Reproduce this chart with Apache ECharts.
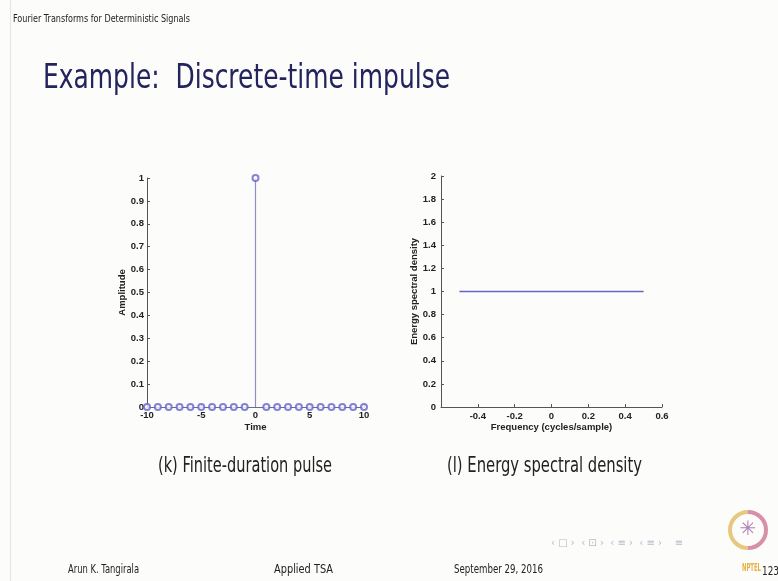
<!DOCTYPE html>
<html>
<head>
<meta charset="utf-8">
<script src="https://cdn.jsdelivr.net/npm/echarts@6/dist/echarts.min.js"></script>
<style>
html,body{margin:0;padding:0;background:#fcfcfa;}
#c{width:778px;height:581px;}
</style>
</head>
<body>
<div id="c"></div>
<script>
// ---- data ----
const timeSamples = [-10,-9,-8,-7,-6,-5,-4,-3,-2,-1,0,1,2,3,4,5,6,7,8,9,10];
const amplitudes  = [0,0,0,0,0,0,0,0,0,0,1,0,0,0,0,0,0,0,0,0,0];
const freqPoints  = [-0.5, 0.5];
const esdValues   = [1, 1];
const leftYTicks  = ['0','0.1','0.2','0.3','0.4','0.5','0.6','0.7','0.8','0.9','1'];
const leftXTicks  = ['-10','-5','0','5','10'];
const rightYTicks = ['0','0.2','0.4','0.6','0.8','1','1.2','1.4','1.6','1.8','2'];
const rightXTicks = ['-0.4','-0.2','0','0.2','0.4','0.6'];

const chart = echarts.init(document.getElementById('c'));
const blue = '#6464cc';
const stemColor = '#8c8cd0';
const axisCol = '#555';
const tickFont = {fontFamily:'Liberation Sans, Arial', fontSize:9.5, fontWeight:'bold', color:'#222'};

// fit text to a target width by horizontal scaling
const mctx = document.createElement('canvas').getContext('2d');
function fitText(text, font, x, y, targetW, fill){
  mctx.font = font;
  const w = mctx.measureText(text).width;
  const s = targetW / w;
  return {type:'text', x:x, y:y, scaleX:s, originX:0, originY:0,
          style:{text:text, font:font, fill:fill, textVerticalAlign:'middle'}};
}
const F = '"DejaVu Sans", sans-serif';

const stemPairs = timeSamples.map((t,i)=>[t, amplitudes[i]]);
const freqPairs = freqPoints.map((f,i)=>[f, esdValues[i]]);

chart.setOption({
  backgroundColor:'#fcfcfa',
  animation:false,
  grid:[
    {left:147, top:178, width:217, height:229},
    {left:441, top:176, width:221, height:231}
  ],
  xAxis:[
    {gridIndex:0, type:'value', min:-10, max:10, interval:5,
     axisLine:{show:true, onZero:false, lineStyle:{color:'#6a6a90', width:1}},
     axisTick:{show:true, inside:true, length:3, lineStyle:{color:axisCol}},
     splitLine:{show:false},
     axisLabel:Object.assign({margin:3, formatter:v=>{const s=String(v);return leftXTicks.includes(s)?s:'';}}, tickFont),
     name:'Time', nameLocation:'middle', nameGap:15,
     nameTextStyle:Object.assign({}, tickFont)},
    {gridIndex:1, type:'value', min:-0.6, max:0.6, interval:0.2,
     axisLine:{show:true, onZero:false, lineStyle:{color:axisCol, width:1}},
     axisTick:{show:true, inside:true, length:3, lineStyle:{color:axisCol}},
     splitLine:{show:false},
     axisLabel:Object.assign({margin:4, showMinLabel:false, formatter:v=>{const s=String(+v.toFixed(1));return rightXTicks.includes(s)?s:'';}}, tickFont),
     name:'Frequency (cycles/sample)', nameLocation:'middle', nameGap:15,
     nameTextStyle:Object.assign({}, tickFont)}
  ],
  yAxis:[
    {gridIndex:0, type:'value', min:0, max:1, interval:0.1,
     axisLine:{show:true, onZero:false, lineStyle:{color:axisCol, width:1}},
     axisTick:{show:true, inside:true, length:3, lineStyle:{color:axisCol}},
     splitLine:{show:false},
     axisLabel:Object.assign({margin:3, formatter:v=>{const s=String(+v.toFixed(1));return leftYTicks.includes(s)?s:'';}}, tickFont),
     name:'Amplitude', nameLocation:'middle', nameGap:14, nameRotate:90,
     nameTextStyle:Object.assign({}, tickFont)},
    {gridIndex:1, type:'value', min:0, max:2, interval:0.2,
     axisLine:{show:true, onZero:false, lineStyle:{color:axisCol, width:1}},
     axisTick:{show:true, inside:true, length:3, lineStyle:{color:axisCol}},
     splitLine:{show:false},
     axisLabel:Object.assign({margin:5, formatter:v=>{const s=String(+v.toFixed(1));return rightYTicks.includes(s)?s:'';}}, tickFont),
     name:'Energy spectral density', nameLocation:'middle', nameGap:14, nameRotate:90,
     nameTextStyle:Object.assign({}, tickFont)}
  ],
  series:[
    {type:'custom', xAxisIndex:0, yAxisIndex:0, data:stemPairs, silent:true,
     renderItem:(params, api)=>{
       const p0 = api.coord([api.value(0), 0]);
       const p1 = api.coord([api.value(0), api.value(1)]);
       return {type:'line', shape:{x1:p0[0], y1:p0[1], x2:p1[0], y2:p1[1]}, style:{stroke:stemColor, lineWidth:1.2}};
     }},
    {type:'scatter', xAxisIndex:0, yAxisIndex:0, data:stemPairs, symbol:'emptyCircle', symbolSize:6,
     itemStyle:{color:blue, borderColor:blue, borderWidth:1.3}, silent:true},
    {type:'line', xAxisIndex:1, yAxisIndex:1, data:freqPairs, symbol:'none',
     lineStyle:{color:blue, width:1.5}, silent:true}
  ],
  graphic:[
    {type:'line', shape:{x1:10.5, y1:0, x2:10.5, y2:581}, style:{stroke:'#e4e4e4', lineWidth:1}},
    fitText('Fourier Transforms for Deterministic Signals', '11px '+F, 13, 19, 177, '#222'),
    fitText('Example:  Discrete-time impulse', '34px '+F, 43, 79, 407, '#23235e'),
    fitText('(k) Finite-duration pulse', '21px '+F, 158, 467, 174, '#222'),
    fitText('(l) Energy spectral density', '21px '+F, 447, 467, 195, '#222'),
    fitText('Arun K. Tangirala', '13px '+F, 68, 570, 71, '#222'),
    fitText('Applied TSA', '13px '+F, 274, 570, 59, '#222'),
    fitText('September 29, 2016', '13px '+F, 454, 570, 89, '#222'),
    fitText('123', '13px '+F, 762, 572, 17, '#222'),
    fitText('NPTEL', 'bold 10px '+F, 742, 568, 19, '#e8b040'),
    {type:'text', x:551, y:543, style:{text:'‹ □ ›  ‹ ⊡ ›  ‹ ≡ ›  ‹ ≡ ›    ≡', font:'10px "DejaVu Sans", sans-serif', fill:'#b8b8cc', textVerticalAlign:'middle'}},
    {type:'arc', shape:{cx:748, cy:530, r:18, startAngle:Math.PI*0.5, endAngle:Math.PI*1.5}, style:{fill:'none', stroke:'#e6c880', lineWidth:4}},
    {type:'arc', shape:{cx:748, cy:530, r:18, startAngle:-Math.PI*0.5, endAngle:Math.PI*0.5}, style:{fill:'none', stroke:'#d890a8', lineWidth:4}},
    {type:'text', x:748, y:530, style:{text:'✳', font:'20px "DejaVu Sans", sans-serif', fill:'#b080b8', textAlign:'center', textVerticalAlign:'middle'}}
  ]
});
</script>
</body>
</html>
